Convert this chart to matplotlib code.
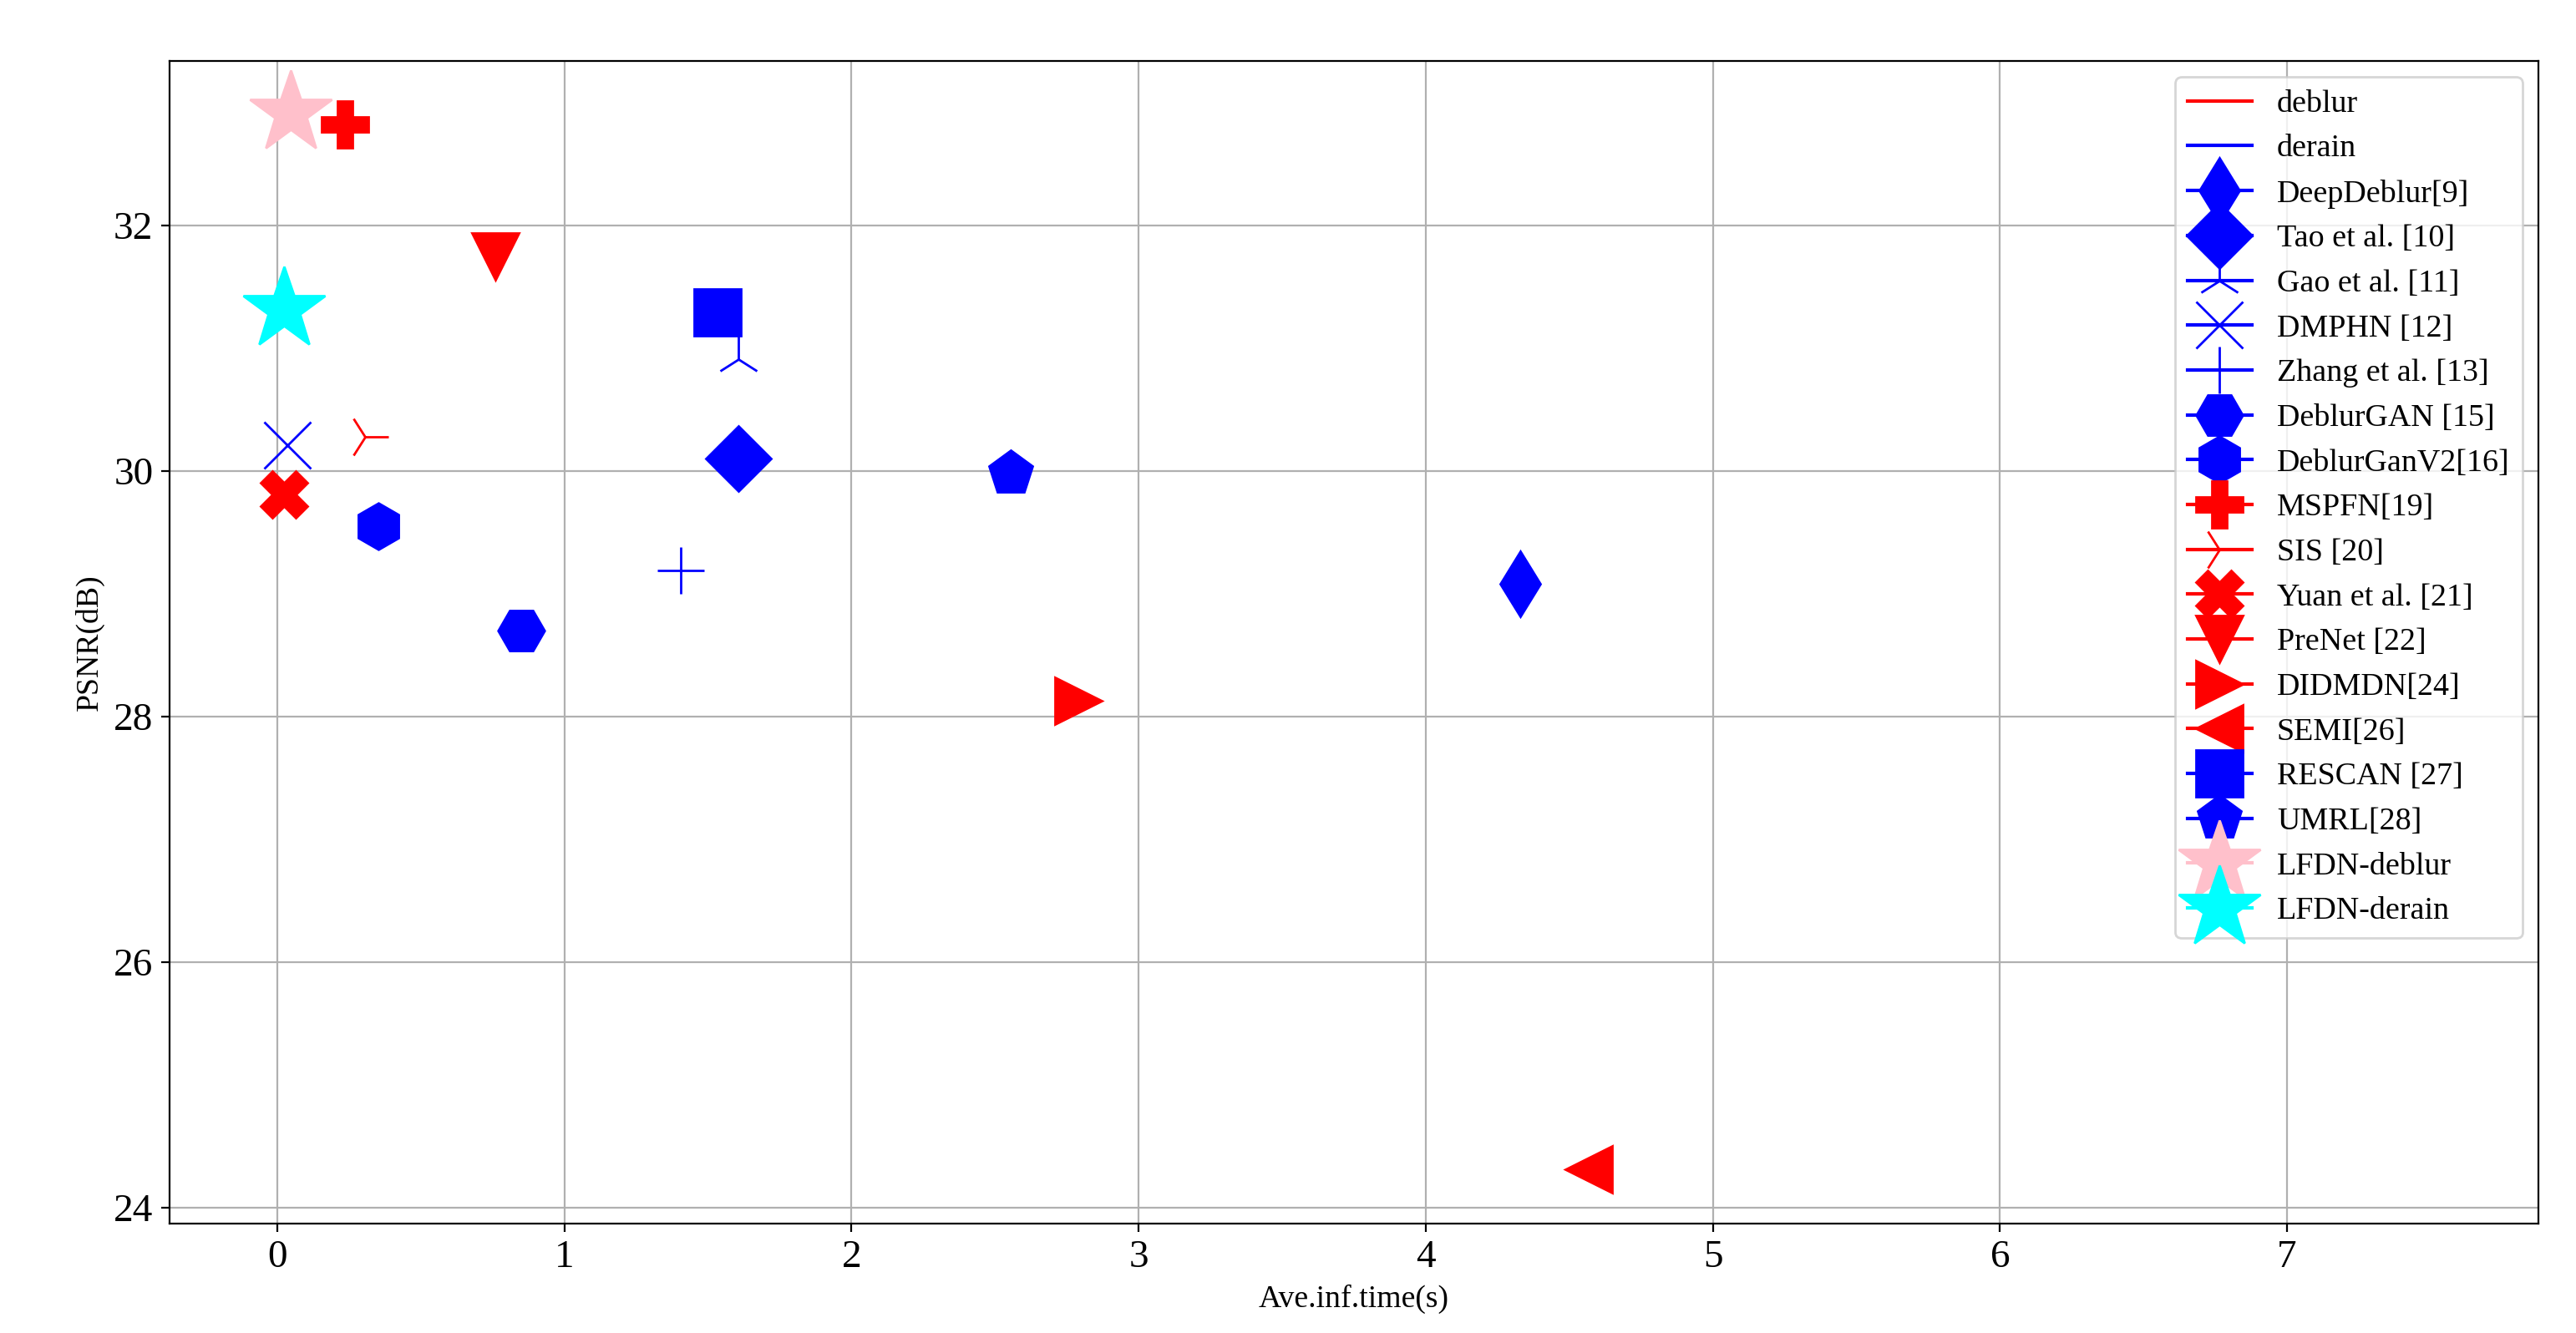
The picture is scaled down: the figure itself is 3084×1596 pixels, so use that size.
import matplotlib
matplotlib.use('Agg')
import matplotlib.pyplot as plt

plt.rcParams['font.family'] = ['Liberation Serif', 'DejaVu Serif']

# method names, inference time (s) and PSNR (dB)
methods = ['DeepDeblur[9]', 'Tao et al. [10]', 'Gao et al. [11]', 'DMPHN [12]',
           'Zhang et al. [13]', 'DeblurGAN [15]', 'DeblurGanV2[16]', 'MSPFN[19]',
           'SIS [20]', 'Yuan et al. [21]', 'PreNet [22]', 'DIDMDN[24]', 'SEMI[26]',
           'RESCAN [27]', 'UMRL[28]', 'LFDN-deblur', 'LFDN-derain']
times = [4.33, 1.606, 1.606, 0.036, 1.405, 0.851, 0.353, 0.237,
         0.305, 0.024, 0.76, 2.789, 4.567, 1.533, 2.556, 0.048, 0.024]
psnr = [29.08, 30.10, 30.91, 30.21, 29.19, 28.70, 29.55, 32.82,
        30.28, 29.81, 31.75, 28.13, 24.31, 31.29, 29.98, 32.92, 31.32]

markers = ['d', 'D', '2', 'x', '+', 'H', 'h', 'P', '4', 'X', 'v', '>', '<',
           's', 'p', '*', '*']
colors = ['blue'] * 7 + ['red'] * 6 + ['blue'] * 2 + ['pink', 'cyan']
sizes = [20] * 15 + [37, 37]

fig = plt.figure(figsize=(15.42, 7.98), dpi=200)
ax = fig.add_subplot(111)
fig.subplots_adjust(left=0.0658, right=0.9854, bottom=0.0821, top=0.9543)

ax.plot([], [], color='red', label='deblur')
ax.plot([], [], color='blue', label='derain')
for name, t, p, m, c, s in zip(methods, times, psnr, markers, colors, sizes):
    ax.plot([t], [p], marker=m, color=c, markersize=s, label=name)

ax.set_xlim(-0.375, 7.875)
ax.set_ylim(23.87, 33.34)
ax.set_yticks([24, 26, 28, 30, 32])
ax.set_xticks(range(8))
ax.tick_params(labelsize=17)
ax.grid(True)
ax.set_xlabel('Ave.inf.time(s)', fontsize=13.6)
ax.set_ylabel('PSNR(dB)', fontsize=13.6)
ax.legend(loc='upper right', fontsize=13.7)

fig.savefig('out.png', dpi=200)
